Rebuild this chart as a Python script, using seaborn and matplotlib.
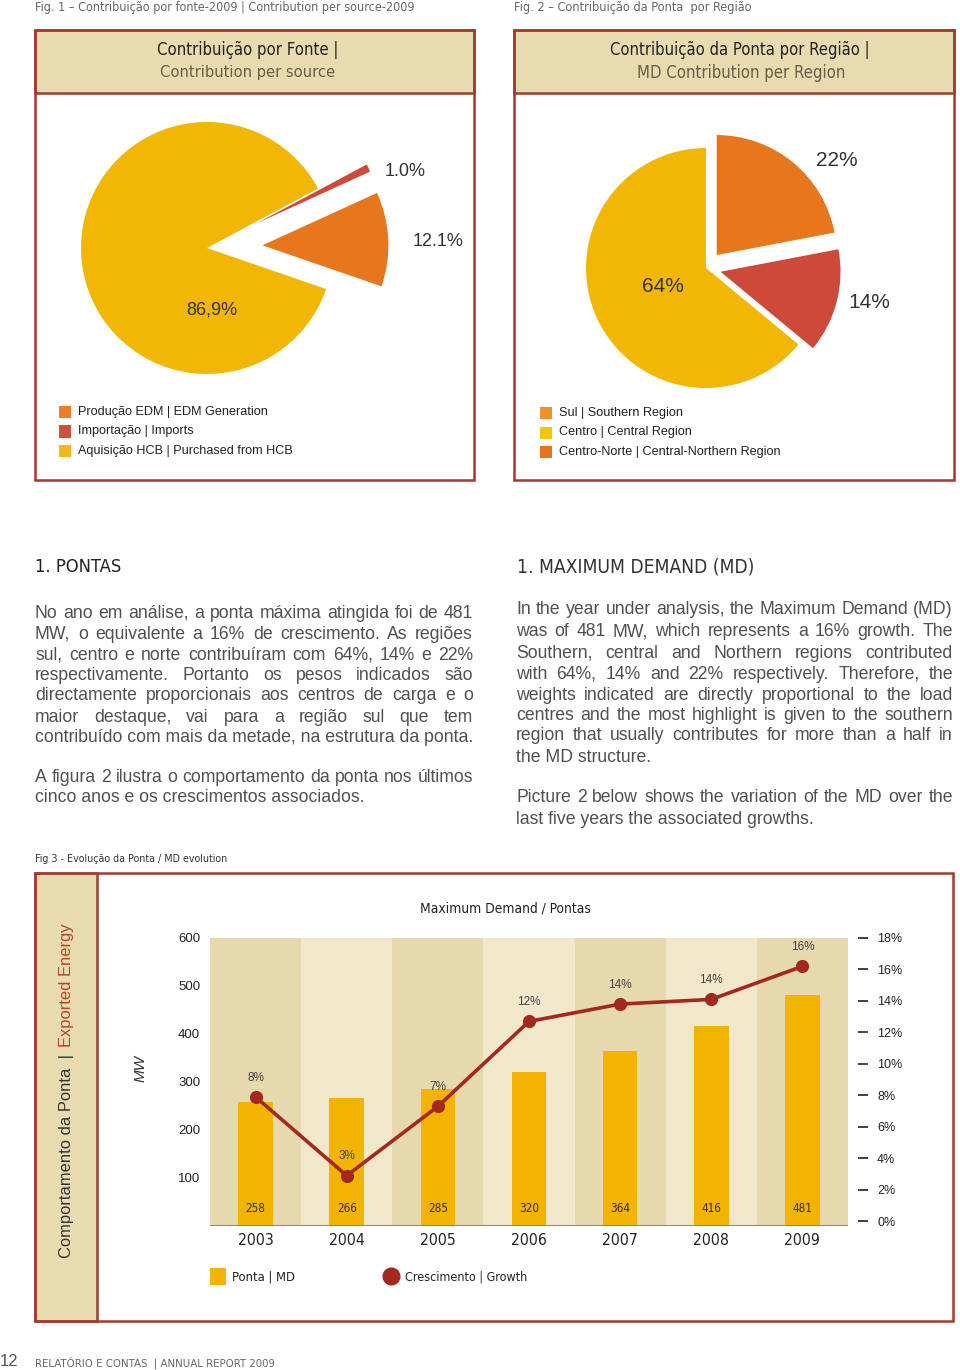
import numpy as np
import pandas as pd
import matplotlib
matplotlib.use("Agg")
import matplotlib.pyplot as plt
import seaborn as sns
from matplotlib.patches import Rectangle
from matplotlib.lines import Line2D

sns.set_theme(style="white")
plt.rcParams['font.family'] = ['Liberation Sans', 'DejaVu Sans']

# ---------------- data ----------------
source_names = ["Produção EDM | EDM Generation", "Importação | Imports",
                "Aquisição HCB | Purchased from HCB"]
source_share = [12.1, 1.0, 86.9]
source_text = ["12.1%", "1.0%", "86,9%"]

region_names = ["Sul | Southern Region", "Centro | Central Region",
                "Centro-Norte | Central-Northern Region"]
region_share = [64, 14, 22]
region_text = ["64%", "14%", "22%"]

years = ["2003", "2004", "2005", "2006", "2007", "2008", "2009"]
md_mw = [258, 266, 285, 320, 364, 416, 481]
growth_pct = [7.9, 2.9, 7.3, 12.7, 13.8, 14.1, 16.2]
growth_text = ["8%", "3%", "7%", "12%", "14%", "14%", "16%"]
mw_ticks = [100, 200, 300, 400, 500, 600]
growth_ticks = [0, 2, 4, 6, 8, 10, 12, 14, 16, 18]

left_par = [
    ["No ano em análise, a ponta máxima atingida foi de 481",
     "MW, o equivalente a 16% de crescimento. As regiões",
     "sul, centro e norte contribuíram com 64%, 14% e 22%",
     "respectivamente. Portanto os pesos indicados são",
     "directamente proporcionais aos centros de carga e o",
     "maior destaque, vai para a região sul que tem",
     "contribuído com mais da metade, na estrutura da ponta."],
    ["A figura 2 ilustra o comportamento da ponta nos últimos",
     "cinco anos e os crescimentos associados."],
]
right_par = [
    ["In the year under analysis, the Maximum Demand (MD)",
     "was of 481 MW, which represents a 16% growth. The",
     "Southern, central and Northern regions contributed",
     "with 64%, 14% and 22% respectively. Therefore, the",
     "weights indicated are directly proportional to the load",
     "centres and the most highlight is given to the southern",
     "region that usually contributes for more than a half in",
     "the MD structure."],
    ["Picture 2 below shows the variation of the MD over the",
     "last five years the associated growths."],
]

# ---------------- style ----------------
RED_BORDER = '#A23B2F'
BEIGE = '#E7DBAF'
PIE_YELLOW = '#F2B705'
PIE_ORANGE = '#E8761C'
PIE_RED = '#CD4A3A'
BAR = '#F2B400'
LINE = '#A3281E'
BAND_D = '#E6D9AE'
BAND_L = '#F1E7CB'
COND = dict(family=['Liberation Sans Narrow', 'DejaVu Sans'], stretch='condensed')
BODY = dict(family=['Liberation Sans', 'DejaVu Sans'])
ARIAL = dict(family=['Liberation Sans', 'DejaVu Sans'])

W, H = 960, 1370
fig = plt.figure(figsize=(9.6, 13.7), dpi=100)
renderer = fig.canvas.get_renderer()


def fx(x):
    return x / W


def fy(y):
    return 1 - y / H


def measure(s, **kw):
    t = fig.text(0, 0, s, **kw)
    bb = t.get_window_extent(renderer)
    t.remove()
    return bb.width, bb.height


def fit(s, target, **kw):
    w, _ = measure(s, fontsize=20, **kw)
    return 20 * target / w


def ftext(x, y, s, target=None, size=None, **kw):
    font = {k: v for k, v in kw.items() if k in ('family', 'stretch', 'weight', 'style')}
    if target is not None:
        size = fit(s, target, **font)
    return fig.text(fx(x), fy(y), s, fontsize=size, **kw)


def rect(x0, y0, x1, y1, fc='none', ec=RED_BORDER, lw=1.8, z=1):
    fig.add_artist(Rectangle((fx(x0), fy(y1)), fx(x1) - fx(x0), fy(y0) - fy(y1),
                             transform=fig.transFigure, fc=fc, ec=ec, lw=lw, zorder=z))


# ---------------- captions & boxes ----------------
ftext(35, 8, "Fig. 1 – Contribuição por fonte-2009 | Contribution per source-2009",
      target=379, color='#666666', va='center', ha='left', **COND)
ftext(514, 8, "Fig. 2 – Contribuição da Ponta  por Região",
      target=236, color='#666666', va='center', ha='left', **COND)

for (x0, x1) in [(35, 474), (514, 954)]:
    rect(x0, 30, x1, 93, fc=BEIGE)
    rect(x0, 30, x1, 480)

ftext(248, 50, "Contribuição por Fonte |", target=181, color='#222222',
      ha='center', va='center', **COND)
ftext(248, 73, "Contribution per source", target=174, color='#6B5B47',
      ha='center', va='center', **COND)
ftext(740, 50, "Contribuição da Ponta por Região |", target=258, color='#222222',
      ha='center', va='center', **COND)
ftext(741, 73, "MD Contribution per Region", target=207, color='#6B5B47',
      ha='center', va='center', **COND)


# ---------------- pies ----------------
def pie_axes(cx, cy, r, L=1.6):
    ax = fig.add_axes([fx(cx - L * r), fy(cy + L * r), 2 * L * r / W, 2 * L * r / H])
    ax.set_xlim(-L, L)
    ax.set_ylim(-L, L)
    ax.axis('off')
    return ax


def to_pie(px, py, cx, cy, r):
    return (px - cx) / r, (cy - py) / r


c1 = (207, 248, 126)
ax1 = pie_axes(*c1)
ax1.pie(source_share, colors=[PIE_ORANGE, PIE_RED, PIE_YELLOW], startangle=-19,
        counterclock=True, explode=[0.44, 0.43, 0.0],
        wedgeprops=dict(linewidth=0))
ax1.set_xlim(-1.6, 1.6)
ax1.set_ylim(-1.6, 1.6)
for s, (px, py) in zip(source_text, [(438, 242), (405, 172), (212, 310)]):
    ax1.text(*to_pie(px, py, *c1), s, ha='center', va='center', fontsize=13,
             color='#333333', clip_on=False, **ARIAL)

c2 = (706, 268, 120)
ax2p = pie_axes(*c2)
ax2p.pie(region_share, colors=[PIE_YELLOW, PIE_RED, PIE_ORANGE], startangle=90,
         counterclock=True, explode=[0.0, 0.125, 0.14],
         wedgeprops=dict(linewidth=0))
ax2p.set_xlim(-1.6, 1.6)
ax2p.set_ylim(-1.6, 1.6)
for s, (px, py) in zip(region_text, [(663, 287), (869, 302), (837, 160)]):
    ax2p.text(*to_pie(px, py, *c2), s, ha='center', va='center', fontsize=15,
              color='#333333', clip_on=False, **ARIAL)

# pie legends
leg_size = fit(source_names[0], 190, **ARIAL)
for i, (name, col) in enumerate(zip(source_names, ['#EE7D24', '#D0503F', '#F5B616'])):
    y = 412 + i * 19.5
    rect(59, y - 6, 71, y + 6, fc=col, ec='none', lw=0, z=2)
    ftext(78, y, name, size=leg_size, color='#222222', va='center', ha='left', **ARIAL)
for i, (name, col) in enumerate(zip(region_names, ['#F0922C', '#F6C30E', '#E8731E'])):
    y = 413 + i * 19.5
    rect(540, y - 6, 552, y + 6, fc=col, ec='none', lw=0, z=2)
    ftext(559, y, name, size=leg_size, color='#222222', va='center', ha='left', **ARIAL)

# ---------------- text section ----------------
ftext(35, 567, "1. PONTAS", target=86, color='#222222', va='center', ha='left', **COND)
ftext(517, 567, "1. MAXIMUM DEMAND (MD)", target=238, color='#333333',
      va='center', ha='left', **COND)

BODY_COLOR = '#505050'


def body_size(pars, width):
    best = 100
    for par in pars:
        for line in par[:-1]:
            w, _ = measure(line, fontsize=20, **BODY)
            best = min(best, 20 * width / w)
    return best * 0.995


def justified(pars, x0, x1, ys, size):
    k = 0
    for par in pars:
        for j, line in enumerate(par):
            y = ys[k]
            k += 1
            words = line.split(' ')
            if j == len(par) - 1 or len(words) == 1:
                fig.text(fx(x0), fy(y), line, fontsize=size, color=BODY_COLOR,
                         va='center', ha='left', **BODY)
                continue
            widths = [measure(wd, fontsize=size, **BODY)[0] for wd in words]
            gap = (x1 - x0 - sum(widths)) / (len(words) - 1)
            x = x0
            for wd, ww in zip(words, widths):
                fig.text(fx(x), fy(y), wd, fontsize=size, color=BODY_COLOR,
                         va='center', ha='left', **BODY)
                x += ww + gap


bs = min(body_size(left_par, 438), body_size(right_par, 437))
justified(left_par, 35, 473, [613, 634, 655, 676, 696, 717, 737, 777, 798], bs)
justified(right_par, 516, 953, [610, 632, 653, 674, 695, 715, 736, 757, 798, 819], bs)

# ---------------- Fig 3 ----------------
ftext(35, 859, "Fig 3 - Evolução da Ponta / MD evolution", target=193,
      color='#333333', va='center', ha='left', **COND)
rect(35, 873, 97, 1321, fc=BEIGE)
rect(35, 873, 953, 1321)

# sidebar rotated two-colour text
part1 = "Comportamento da Ponta  |"
part2 = "Exported Energy"
side_size = fit(part1 + "  " + part2, 333, **ARIAL)
w1, _ = measure(part1, fontsize=side_size, **ARIAL)
fig.text(fx(67), fy(1258), part1, rotation=90, fontsize=side_size, color='#333333',
         ha='center', va='bottom', **ARIAL)
fig.text(fx(67), fy(1258 - w1 - 7), part2, rotation=90, fontsize=side_size,
         color='#B4462C', ha='center', va='bottom', **ARIAL)

ftext(505, 908, "Maximum Demand / Pontas", target=170, color='#222222',
      ha='center', va='center', **COND)
fig.text(fx(141), fy(1068), "MW", rotation=90, fontsize=11, style='italic',
         color='#333333', ha='center', va='center', **ARIAL)

ax = fig.add_axes([fx(210), fy(1226), (848 - 210) / W, (1226 - 938) / H])
for i in range(len(years)):
    ax.axvspan(i - 0.5, i + 0.5, color=BAND_D if i % 2 == 0 else BAND_L, lw=0, zorder=0)
for v in mw_ticks[:-1]:
    ax.axhline(v, color='#2B2B2B', lw=1.0, zorder=1)

df = pd.DataFrame({"year": years, "mw": md_mw})
sns.barplot(data=df, x="year", y="mw", color=BAR, width=0.38, saturation=1, ax=ax)
for p in ax.patches:
    p.set_zorder(3)
    p.set_linewidth(0)
ax.axhline(0, color='#8A8A80', lw=2.2, zorder=4)
ax.set_xlim(-0.5, len(years) - 0.5)
ax.set_ylim(0, 600)
ax.set_yticks(mw_ticks)
ax.set_yticklabels([str(t) for t in mw_ticks])
ax.set_xlabel("")
ax.set_ylabel("")
for s in ax.spines.values():
    s.set_visible(False)
year_size = fit("2003", 36, **COND)
ax.tick_params(axis='y', length=0, pad=7, labelsize=9.5, labelcolor='#222222')
ax.tick_params(axis='x', length=0, pad=5, labelsize=year_size, labelcolor='#222222')
for lab in ax.get_xticklabels():
    lab.set_fontfamily(COND['family'])
    lab.set_fontstretch('condensed')

val_size = fit("258", 20, **COND)
for i, v in enumerate(md_mw):
    ax.annotate(str(v), (i, 0), xytext=(0, 12.5), textcoords='offset points',
                ha='center', va='center', fontsize=val_size, color='#3A2A10',
                zorder=5, **COND)

axg = ax.twinx()
sns.lineplot(x=np.arange(len(years)), y=growth_pct, ax=axg, color=LINE, lw=2.6,
             marker='o', markersize=9.5, markeredgewidth=0, zorder=6)
axg.set_ylim(-0.3, 18)
axg.set_yticks(growth_ticks)
axg.set_yticklabels([f"{t}%" for t in growth_ticks])
for s in axg.spines.values():
    s.set_visible(False)
axg.spines['right'].set_position(('outward', 7.5))
axg.tick_params(axis='y', right=True, length=7.5, width=1.3, color='#333333', pad=6,
                labelsize=9, labelcolor='#222222', direction='out')
axg.grid(False)
ax.grid(False)
for i, (g, t) in enumerate(zip(growth_pct, growth_text)):
    axg.annotate(t, (i, g), xytext=(0, 14), textcoords='offset points',
                 ha='center', va='center', fontsize=8.5, color='#444444', **ARIAL)

# chart legend
rect(210, 1268, 226, 1285, fc=BAR, ec='none', lw=0, z=2)
ftext(232, 1277, "Ponta | MD", target=63, color='#222222', va='center', ha='left', **COND)
fig.add_artist(Line2D([fx(391)], [fy(1276)], marker='o', markersize=12, color=LINE,
                      transform=fig.transFigure, lw=0))
ftext(405, 1277, "Crescimento | Growth", target=122, color='#222222', va='center',
      ha='left', **COND)

# footer
ftext(0, 1361, "12", size=12, color='#555555', va='center', ha='left', **ARIAL)
ftext(35, 1363, "RELATÓRIO E CONTAS  | ANNUAL REPORT 2009", target=241, color='#666666',
      va='center', ha='left', **COND)

fig.savefig("out.png", dpi=100)
